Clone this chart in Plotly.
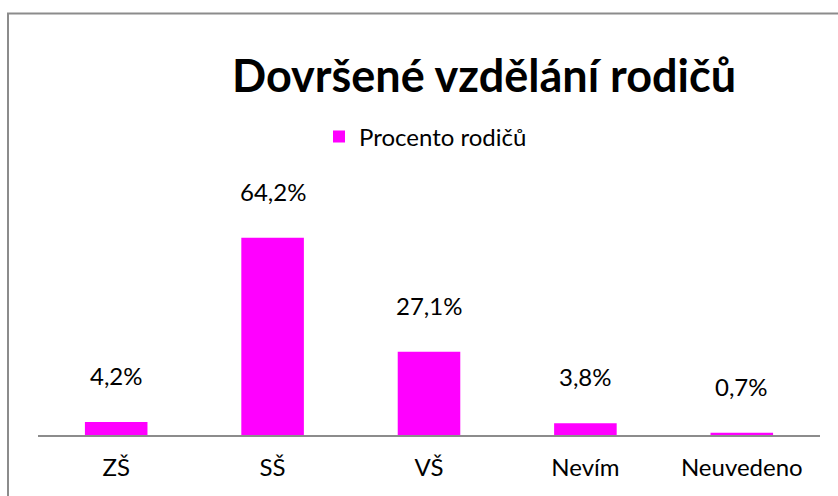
import plotly.graph_objects as go

categories = ["ZŠ", "SŠ", "VŠ", "Nevím", "Neuvedeno"]
values = [4.2, 64.2, 27.1, 3.8, 0.7]
labels = ["4,2%", "64,2%", "27,1%", "3,8%", "0,7%"]
series_name = "Procento rodičů"
title_text = "Dovršené vzdělání rodičů"

FONT = "Lato, 'Open Sans', sans-serif"
MAGENTA = "#FF00FF"

L, R, T, B = 38, 18, 220, 61
W, H = 838, 496
pw, ph = W - L - R, H - T - B


def px_x(x):
    return (x - L) / pw


def px_y(y):
    return (H - B - y) / ph


fig = go.Figure()
fig.add_trace(go.Bar(
    x=categories, y=values, name=series_name,
    marker=dict(color=MAGENTA, line=dict(width=0)),
    showlegend=True,
))

annotations = []
for c, v, t in zip(categories, values, labels):
    annotations.append(dict(
        x=c, y=v, xref="x", yref="y", text=t, showarrow=False,
        yanchor="bottom", yshift=30, font=dict(family=FONT, size=24, color="#000000"),
    ))
annotations.append(dict(
    x=px_x(484), y=px_y(75), xref="paper", yref="paper", text="<b>" + title_text + "</b>",
    showarrow=False, xanchor="center", yanchor="middle",
    font=dict(family=FONT, size=45, color="#000000"),
))

fig.update_layout(
    width=W, height=H,
    margin=dict(l=L, r=R, t=T, b=B, pad=0),
    paper_bgcolor="white", plot_bgcolor="white",
    bargap=0.6,
    font=dict(family=FONT, size=24, color="#000000"),
    xaxis=dict(
        showline=True, linecolor="#8c8c8c", linewidth=2, ticks="",
        tickfont=dict(family=FONT, size=24, color="#000000"),
        ticklabelstandoff=10,
        showgrid=False, zeroline=False,
    ),
    yaxis=dict(range=[0, 70], visible=False, showgrid=False, zeroline=False),
    legend=dict(
        orientation="h", x=px_x(319), xanchor="left",
        y=px_y(137), yanchor="middle",
        font=dict(family=FONT, size=24, color="#000000"),
        itemwidth=30, bgcolor="rgba(0,0,0,0)",
    ),
    annotations=annotations,
    shapes=[dict(
        type="rect", xref="paper", yref="paper",
        x0=px_x(8), x1=px_x(845),
        y0=px_y(505), y1=px_y(13.5),
        line=dict(color="#8c8c8c", width=2), fillcolor="rgba(0,0,0,0)", layer="below",
    )],
)

fig.write_html(
    "out.html",
    config={"displayModeBar": False},
    post_script="document.body.style.margin='0';document.body.style.overflow='hidden';",
)
